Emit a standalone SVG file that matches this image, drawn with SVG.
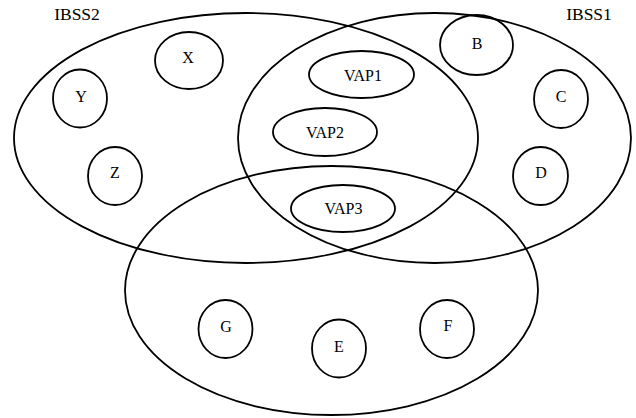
<svg xmlns="http://www.w3.org/2000/svg" width="636" height="418" viewBox="0 0 636 418">
<style>
ellipse{fill:none;stroke:#000;stroke-width:1.8}
text{font-family:"Liberation Serif","Times New Roman",serif;font-size:16px;fill:#000;text-anchor:middle}
.big{font-size:17.5px}
</style>
<rect width="636" height="418" fill="#fff"/>
<g id="IBSS2"><ellipse cx="246" cy="138" rx="232" ry="125"/><text class="big" x="77" y="20">IBSS2</text></g>
<g id="IBSS1"><ellipse cx="434.5" cy="138" rx="196.5" ry="125"/><text class="big" x="589" y="20">IBSS1</text></g>
<g id="IBSS3"><ellipse cx="331.5" cy="290.5" rx="206.5" ry="124.5"/></g>
<g id="X"><ellipse cx="189" cy="60.5" rx="34" ry="28.5"/><text x="188" y="63">X</text></g>
<g id="Y"><ellipse cx="80" cy="98.5" rx="27" ry="29"/><text x="81" y="101.5">Y</text></g>
<g id="Z"><ellipse cx="115" cy="176" rx="27" ry="29"/><text x="115" y="178">Z</text></g>
<g id="B"><ellipse cx="476.5" cy="45" rx="36.5" ry="30"/><text x="477" y="49">B</text></g>
<g id="C"><ellipse cx="561" cy="99" rx="27" ry="29"/><text x="561" y="101.5">C</text></g>
<g id="D"><ellipse cx="540.5" cy="176" rx="27.5" ry="29"/><text x="541" y="178">D</text></g>
<g id="VAP1"><ellipse cx="361.5" cy="74.5" rx="52.5" ry="23.5"/><text x="363" y="81">VAP1</text></g>
<g id="VAP2"><ellipse cx="325" cy="132" rx="52" ry="24"/><text x="325" y="138">VAP2</text></g>
<g id="VAP3"><ellipse cx="343" cy="208.5" rx="52" ry="23.5"/><text x="343.5" y="214">VAP3</text></g>
<g id="G"><ellipse cx="225.5" cy="329" rx="27" ry="29"/><text x="226" y="332">G</text></g>
<g id="E"><ellipse cx="339" cy="348.5" rx="27" ry="29"/><text x="339" y="352">E</text></g>
<g id="F"><ellipse cx="447" cy="329" rx="27" ry="29"/><text x="448" y="331">F</text></g>
<g id="connectors"/>
</svg>
